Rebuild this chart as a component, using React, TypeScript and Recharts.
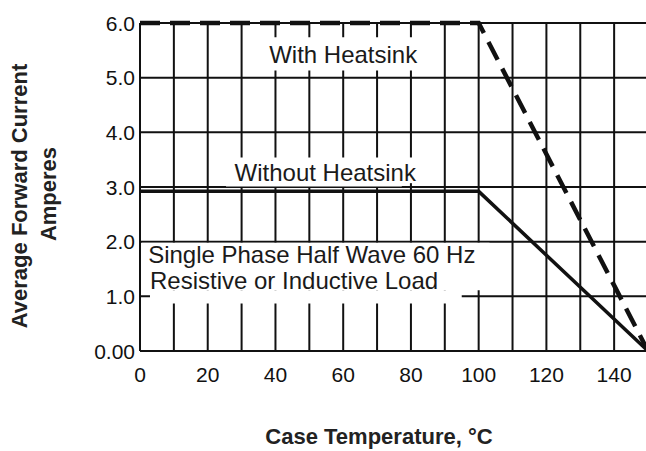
import { LineChart, Line, XAxis, YAxis, CartesianGrid, ReferenceArea, ReferenceDot } from 'recharts'

const FONT = '"Liberation Sans", Arial, sans-serif'
const INK = '#111'

// derating curves
const temperature = [0, 100, 150]
const withHeatsink = [6.0, 6.0, 0]
const withoutHeatsink = [2.92, 2.92, 0]

const xGridTicks = [0, 10, 20, 30, 40, 50, 60, 70, 80, 90, 100, 110, 120, 130, 140, 150]
const xLabelTicks = [0, 20, 40, 60, 80, 100, 120, 140]
const yTicks = [0, 1, 2, 3, 4, 5, 6]
const yTickLabels = ['0.00', '1.0', '2.0', '3.0', '4.0', '5.0', '6.0']

const data = temperature.map((t, i) => ({
  t,
  withHs: withHeatsink[i],
  withoutHs: withoutHeatsink[i],
}))

// white boxes that blank the grid behind the notes (data units)
const noteBoxes = [
  { x1: 34.8, x2: 84.1, y1: 5.13, y2: 5.74 },
  { x1: 25.4, x2: 77.3, y1: 3.01, y2: 3.54 },
  { x1: 77.3, x2: 82.6, y1: 3.07, y2: 3.54 },
  { x1: 0.6, x2: 103.2, y1: 1.11, y2: 1.98 },
  { x1: 2.95, x2: 95, y1: 0.87, y2: 1.11 },
]

const notes = [
  { x: 60, y: 5.43, text: 'With Heatsink', pos: 'center' },
  { x: 54.7, y: 3.26, text: 'Without Heatsink', pos: 'center' },
  { x: 2.4, y: 1.77, text: 'Single Phase Half Wave 60 Hz', pos: 'right' },
  { x: 2.95, y: 1.29, text: 'Resistive or Inductive Load', pos: 'right' },
]

function XTick(props: any) {
  const { x, y, payload } = props
  if (!xLabelTicks.includes(payload.value)) return null
  return (
    <text x={x} y={y + 31} textAnchor="middle" fontSize={21} fontFamily={FONT} fill={INK}>
      {payload.value}
    </text>
  )
}

function YTick(props: any) {
  const { x, y, payload } = props
  return (
    <text x={x - 5} y={y + 7.5} textAnchor="end" fontSize={21} fontFamily={FONT} fill={INK}>
      {yTickLabels[yTicks.indexOf(payload.value)]}
    </text>
  )
}

function XTitle() {
  return (
    <text x={379} y={444} textAnchor="middle" fontSize={22} fontWeight="bold" fontFamily={FONT} fill="#222">
      Case Temperature, °C
    </text>
  )
}

function YTitle() {
  return (
    <g fontSize={22} fontWeight="bold" fontFamily={FONT} fill="#222">
      <text x={27} y={196} textAnchor="middle" transform="rotate(-90, 27, 196)">
        Average Forward Current
      </text>
      <text x={56} y={194} textAnchor="middle" transform="rotate(-90, 56, 194)">
        Amperes
      </text>
    </g>
  )
}

export default function App() {
  return (
    <div style={{ position: 'absolute', left: 0, top: 0, width: 646, height: 451, overflow: 'hidden', background: '#fff' }}>
      <LineChart width={652} height={451} data={data} margin={{ top: 23, right: 4, bottom: 0, left: 0 }}>
        <CartesianGrid stroke={INK} strokeWidth={2} />
        <XAxis
          dataKey="t"
          type="number"
          domain={[0, 150]}
          ticks={xGridTicks}
          interval={0}
          height={100}
          tickSize={0}
          tickMargin={0}
          tickLine={false}
          axisLine={{ stroke: INK, strokeWidth: 2 }}
          tick={<XTick />}
          label={<XTitle />}
        />
        <YAxis
          type="number"
          domain={[0, 6]}
          ticks={yTicks}
          interval={0}
          width={140}
          tickSize={0}
          tickMargin={0}
          tickLine={false}
          axisLine={{ stroke: INK, strokeWidth: 2 }}
          tick={<YTick />}
          label={<YTitle />}
        />
        {noteBoxes.map((b, i) => (
          <ReferenceArea key={i} x1={b.x1} x2={b.x2} y1={b.y1} y2={b.y2} fill="#fff" fillOpacity={1} stroke="none" />
        ))}
        <Line
          type="linear"
          dataKey="withHs"
          stroke={INK}
          strokeWidth={4.5}
          strokeDasharray="20 10"
          dot={false}
          activeDot={false}
          isAnimationActive={false}
        />
        <Line
          type="linear"
          dataKey="withoutHs"
          stroke={INK}
          strokeWidth={3.5}
          dot={false}
          activeDot={false}
          isAnimationActive={false}
        />
        {notes.map((n, i) => (
          <ReferenceDot
            key={i}
            x={n.x}
            y={n.y}
            r={0}
            fill="none"
            stroke="none"
            label={{ value: n.text, position: n.pos as any, offset: 0, fontSize: 24, fontFamily: FONT, fill: '#1a1a1a' }}
          />
        ))}
      </LineChart>
    </div>
  )
}
